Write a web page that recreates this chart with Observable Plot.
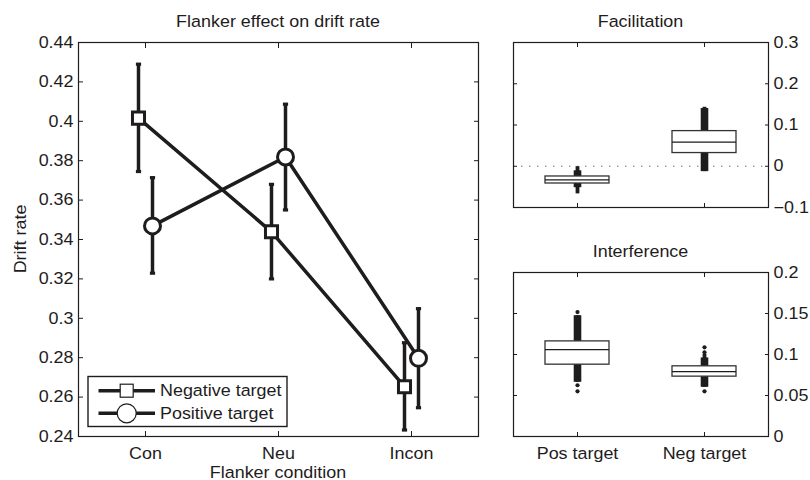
<!DOCTYPE html>
<html><head><meta charset="utf-8">
<script src="https://cdn.jsdelivr.net/npm/d3@7"></script>
<script src="https://cdn.jsdelivr.net/npm/@observablehq/plot@0.6"></script>
<style>
body{margin:0;background:#fff;}
#chart{position:relative;width:810px;height:480px;font-family:"Liberation Sans",Arial,Helvetica,sans-serif;}
#chart svg{position:absolute;max-width:none;}
</style></head><body><div id="chart"></div>
<script>
// ---------- data ----------
const conditions = ["Con", "Neu", "Incon"];
const seriesNames = ["Negative target", "Positive target"];
const negMean = [0.4016, 0.3439, 0.2653];
const negLow  = [0.3745, 0.3200, 0.2433];
const negHigh = [0.4290, 0.3680, 0.2876];
const posMean = [0.3469, 0.3819, 0.2797];
const posLow  = [0.3229, 0.3550, 0.2546];
const posHigh = [0.3714, 0.4087, 0.3049];
const mainYTicks = [0.24, 0.26, 0.28, 0.30, 0.32, 0.34, 0.36, 0.38, 0.40, 0.42, 0.44];

const targets = ["Pos target", "Neg target"];
// Facilitation boxplots
const facQ1     = [-0.0418, 0.0320];
const facMedian = [-0.0330, 0.0585];
const facQ3     = [-0.0248, 0.0852];
const facBandLo = [-0.0520, -0.0130];
const facBandHi = [-0.0110, 0.1400];
const facTailLo = [-0.0670, -0.0130];
const facTailHi = [-0.0010, 0.1430];
const facTicks  = [-0.1, 0, 0.1, 0.2, 0.3];
// Interference boxplots
const intQ1     = [0.0876, 0.0730];
const intMedian = [0.1059, 0.0791];
const intQ3     = [0.1160, 0.0856];
const intBandLo = [0.0661, 0.0600];
const intBandHi = [0.1473, 0.0958];
const intTailLo = [0.0661, 0.0600];
const intTailHi = [0.1473, 0.1000];
const intOutliers = [[0.1517, 0.0625, 0.0551], [0.1087, 0.1026, 0.0551]];
const intTicks  = [0, 0.05, 0.1, 0.15, 0.2];

// ---------- tables ----------
const neg = conditions.map((c, i) => ({cond: c, mean: negMean[i], lo: negLow[i], hi: negHigh[i]}));
const pos = conditions.map((c, i) => ({cond: c, mean: posMean[i], lo: posLow[i], hi: posHigh[i]}));
const facData = targets.map((t, i) => ({target: t, q1: facQ1[i], med: facMedian[i], q3: facQ3[i],
  bandLo: facBandLo[i], bandHi: facBandHi[i], tailLo: facTailLo[i], tailHi: facTailHi[i]}));
const intData = targets.map((t, i) => ({target: t, q1: intQ1[i], med: intMedian[i], q3: intQ3[i],
  bandLo: intBandLo[i], bandHi: intBandHi[i], tailLo: intTailLo[i], tailHi: intTailHi[i]}));
const intDots = targets.flatMap((t, i) => intOutliers[i].map(v => ({target: t, v})));

// ---------- style ----------
const ink = "#1e1c1c";
const FONT = '"Liberation Sans", Arial, Helvetica, sans-serif';
const FS = 16.3;
const STRETCH = 1.1;
const fmt = d3.format("~g");
const noText = () => "";
const capSymbol = {draw(ctx) { ctx.rect(-2.6, -1.6, 5.2, 3.2); }};
const style = {fontFamily: FONT, fontSize: FS + "px", color: ink, background: "transparent", overflow: "visible"};

const chart = document.getElementById("chart");
function place(svg, left, top) {
  svg.style.left = left + "px";
  svg.style.top = top + "px";
  chart.appendChild(svg);
}

// ---------- main panel ----------
const main = Plot.plot({
  width: 490, height: 480,
  marginLeft: 78, marginRight: 12, marginTop: 42, marginBottom: 44,
  style,
  x: {type: "point", domain: conditions, padding: 0.5},
  y: {domain: [0.24, 0.44]},
  marks: [
    Plot.axisY(mainYTicks, {anchor: "left", tickSize: 0, tickPadding: 5, tickFormat: fmt, label: null}),
    Plot.axisY(mainYTicks, {anchor: "left", tickSize: -5, tickFormat: noText, label: null}),
    Plot.axisY(mainYTicks, {anchor: "right", tickSize: -5, tickFormat: noText, label: null}),
    Plot.axisX(conditions, {anchor: "bottom", tickSize: 0, tickPadding: 10.7, label: null}),
    Plot.axisX(conditions, {anchor: "bottom", tickSize: -5, tickFormat: noText, label: null}),
    Plot.axisX(conditions, {anchor: "top", tickSize: -5, tickFormat: noText, label: null}),
    Plot.ruleX(neg, {x: "cond", y1: "lo", y2: "hi", dx: -7, stroke: ink, strokeWidth: 3.5}),
    Plot.ruleX(pos, {x: "cond", y1: "lo", y2: "hi", dx: 7, stroke: ink, strokeWidth: 3.5}),
    Plot.dot(neg, {x: "cond", y: "hi", dx: -7, symbol: capSymbol, r: 3, fill: ink}),
    Plot.dot(neg, {x: "cond", y: "lo", dx: -7, symbol: capSymbol, r: 3, fill: ink}),
    Plot.dot(pos, {x: "cond", y: "hi", dx: 7, symbol: capSymbol, r: 3, fill: ink}),
    Plot.dot(pos, {x: "cond", y: "lo", dx: 7, symbol: capSymbol, r: 3, fill: ink}),
    Plot.line(neg, {x: "cond", y: "mean", dx: -7, stroke: ink, strokeWidth: 3.5}),
    Plot.line(pos, {x: "cond", y: "mean", dx: 7, stroke: ink, strokeWidth: 3.5}),
    Plot.dot(neg, {x: "cond", y: "mean", dx: -7, symbol: "square", r: 6.8, fill: "white", stroke: ink, strokeWidth: 3}),
    Plot.dot(pos, {x: "cond", y: "mean", dx: 7, symbol: "circle", r: 8, fill: "white", stroke: ink, strokeWidth: 3}),
    Plot.frame({stroke: ink, strokeWidth: 1.2})
  ]
});
place(main, 0, 0);

// ---------- box panels ----------
function boxPanel(data, dots, ticks, domain, mt, mb, showLabels, zeroLine) {
  return Plot.plot({
    width: 320, height: 240,
    marginLeft: 23, marginRight: 42, marginTop: mt, marginBottom: mb,
    style,
    x: {type: "band", domain: targets, paddingInner: 0.498, paddingOuter: 0.249},
    y: {domain},
    marks: [
      zeroLine ? Plot.ruleY([0], {stroke: "#666", strokeWidth: 1.2, strokeDasharray: "1.3,6.7"}) : null,
      Plot.ruleX(data, {x: "target", y1: "tailLo", y2: "tailHi", stroke: ink, strokeWidth: 3.8}),
      Plot.ruleX(data, {x: "target", y1: "bandLo", y2: "bandHi", stroke: ink, strokeWidth: 7.6}),
      dots ? Plot.dot(dots, {x: "target", y: "v", r: 2.1, fill: ink}) : null,
      Plot.barY(data, {x: "target", y1: "q1", y2: "q3", fill: "white", stroke: "#333", strokeWidth: 1.3}),
      Plot.tickY(data, {x: "target", y: "med", stroke: ink, strokeWidth: 1.2}),
      Plot.axisY(ticks, {anchor: "right", tickSize: 0, tickPadding: 5, tickFormat: fmt, label: null}),
      Plot.axisY(ticks, {anchor: "right", tickSize: -4, tickFormat: noText, label: null}),
      Plot.axisY(ticks, {anchor: "left", tickSize: -4, tickFormat: noText, label: null}),
      Plot.axisX(targets, {anchor: "bottom", tickSize: 0, tickPadding: 10.7, tickFormat: showLabels ? d => d : noText, label: null}),
      Plot.axisX(targets, {anchor: "bottom", tickSize: -4, tickFormat: noText, label: null}),
      Plot.axisX(targets, {anchor: "top", tickSize: -4, tickFormat: noText, label: null}),
      Plot.frame({stroke: ink, strokeWidth: 1.2})
    ]
  });
}
place(boxPanel(facData, null, facTicks, [-0.1, 0.3], 42, 33, false, true), 490, 0);
place(boxPanel(intData, intDots, intTicks, [0, 0.2], 32, 44, true, false), 490, 240);

// ---------- titles, axis labels, legend ----------
const over = d3.select(chart).append("svg")
  .attr("width", 810).attr("height", 480)
  .style("left", "0px").style("top", "0px")
  .attr("font-family", FONT).attr("font-size", FS).attr("fill", ink);
const titles = [
  {text: "Flanker effect on drift rate", x: 278, y: 27},
  {text: "Facilitation", x: 640.5, y: 27},
  {text: "Interference", x: 640.5, y: 256.5},
  {text: "Flanker condition", x: 278, y: 477.5}
];
over.selectAll("text.t").data(titles).join("text").attr("class", "t")
  .attr("x", d => d.x).attr("y", d => d.y).attr("text-anchor", "middle").text(d => d.text);
over.append("text").attr("transform", "translate(26,239) rotate(-90)")
  .attr("text-anchor", "middle").text("Drift rate");

const lg = over.append("g");
lg.append("rect").attr("x", 88).attr("y", 376.5).attr("width", 199).attr("height", 50)
  .attr("fill", "white").attr("stroke", ink).attr("stroke-width", 1.4);
seriesNames.forEach((name, i) => {
  const y = 390.7 + i * 22.6;
  lg.append("line").attr("x1", 98.5).attr("x2", 155).attr("y1", y).attr("y2", y)
    .attr("stroke", ink).attr("stroke-width", 3.5);
  if (i === 0) {
    lg.append("rect").attr("x", 126.7 - 6.5).attr("y", y - 6.5).attr("width", 13).attr("height", 13)
      .attr("fill", "white").attr("stroke", ink).attr("stroke-width", 1.2);
  } else {
    lg.append("circle").attr("cx", 126.7).attr("cy", y).attr("r", 9.5)
      .attr("fill", "white").attr("stroke", ink).attr("stroke-width", 1.2);
  }
  lg.append("text").attr("x", 160).attr("y", y).attr("dy", "0.35em").text(name);
});

// widen glyphs slightly, like the reference's wide Helvetica
chart.querySelectorAll("text").forEach(el => {
  if (!el.textContent) return;
  const L = el.getComputedTextLength();
  if (L > 0) {
    el.setAttribute("textLength", (L * STRETCH).toFixed(2));
    el.setAttribute("lengthAdjust", "spacingAndGlyphs");
  }
});
</script></body></html>
